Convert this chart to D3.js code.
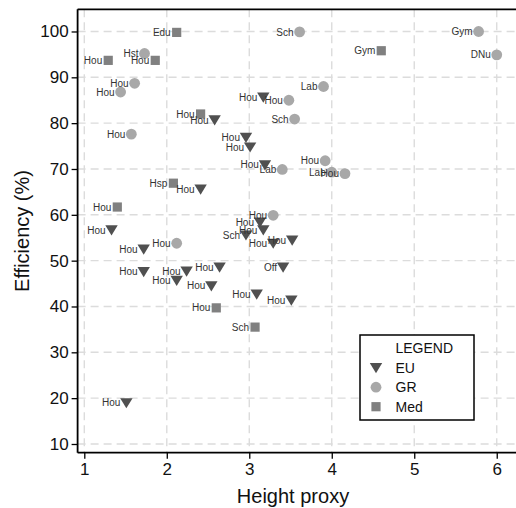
<!DOCTYPE html>
<html>
<head>
<meta charset="utf-8">
<script src="https://cdn.jsdelivr.net/npm/d3@7"></script>
<style>
  html, body { margin: 0; padding: 0; background: #fff; }
  svg { display: block; font-family: "Liberation Sans", Arial, Helvetica, sans-serif; }
</style>
</head>
<body>
<svg id="chart" width="516" height="508"></svg>
<script>
// ---- Data ----
const euLabels = ["Hou","Hou","Hou","Hou","Hou","Hou","Hou","Hou","Hou","Hou","Sch","Hou","Hou","Off","Hou","Hou","Hou","Hou","Hou","Hou","Hou","Hou"];
const euX = [3.17, 2.58, 2.96, 3.01, 3.19, 2.41, 3.13, 3.17, 3.29, 3.52, 2.96, 1.33, 1.72, 3.41, 1.72, 2.12, 2.24, 2.64, 2.54, 3.09, 3.51, 1.51];
const euY = [85.7, 80.7, 76.9, 74.8, 70.9, 65.6, 58.4, 56.7, 53.8, 54.5, 55.6, 56.7, 52.5, 48.6, 47.6, 45.7, 47.7, 48.6, 44.5, 42.7, 41.4, 19.0];

const grLabels = ["Hst","Hou","Hou","Hou","Sch","Gym","DNu","Lab","Hou","Sch","Hou","Lab","Lab","Hou","Hou","Hou"];
const grX = [1.73, 1.61, 1.44, 1.57, 3.61, 5.78, 6.00, 3.90, 3.48, 3.55, 3.92, 3.40, 4.00, 4.16, 3.29, 2.12];
const grY = [95.2, 88.7, 86.8, 77.6, 99.9, 100.0, 94.9, 88.0, 85.0, 80.9, 71.8, 69.9, 69.3, 69.0, 59.9, 53.8];

const medLabels = ["Edu","Hou","Hou","Gym","Hou","Hsp","Hou","Hou","Sch"];
const medX = [2.12, 1.29, 1.86, 4.60, 2.41, 2.08, 1.40, 2.60, 3.07];
const medY = [99.8, 93.7, 93.7, 95.8, 82.0, 66.9, 61.7, 39.7, 35.5];

const xTicks = [1, 2, 3, 4, 5, 6];
const yTicks = [10, 20, 30, 40, 50, 60, 70, 80, 90, 100];
const legendItems = ["EU", "GR", "Med"];

// ---- Layout ----
const svg = d3.select("#chart");
const pL = 77.6, pR = 520, pT = 9.3, pB = 452.7;

const x = d3.scaleLinear().domain([0.9188, 6.282]).range([pL, pR]);
const y = d3.scaleLinear().domain([8.10, 104.84]).range([pB, pT]);

const colEU = "#505050", colGR = "#a8a8a8", colMed = "#808080";

// grid
const grid = svg.append("g");
grid.selectAll("line.gx").data(xTicks).enter().append("line")
  .attr("x1", d => x(d)).attr("x2", d => x(d))
  .attr("y1", pT).attr("y2", pB)
  .attr("stroke", "#dcdcdc").attr("stroke-width", 1.4).attr("stroke-dasharray", "8,5");
grid.selectAll("line.gy").data(yTicks).enter().append("line")
  .attr("x1", pL).attr("x2", pR)
  .attr("y1", d => y(d)).attr("y2", d => y(d))
  .attr("stroke", "#dcdcdc").attr("stroke-width", 1.4).attr("stroke-dasharray", "8,5");

// frame top
svg.append("line").attr("x1", pL).attr("x2", pR).attr("y1", pT).attr("y2", pT)
  .attr("stroke", "#000").attr("stroke-width", 1.8);

// axes
const xAxis = svg.append("g").attr("transform", `translate(0,${pB})`)
  .call(d3.axisBottom(x).tickValues(xTicks).tickSize(6).tickPadding(4).tickFormat(d3.format("d")));
const yAxis = svg.append("g").attr("transform", `translate(${pL},0)`)
  .call(d3.axisLeft(y).tickValues(yTicks).tickSize(6).tickPadding(3).tickFormat(d3.format("d")));
[xAxis, yAxis].forEach(a => {
  a.select(".domain").attr("stroke", "#000").attr("stroke-width", 1.8);
  a.selectAll(".tick line").attr("stroke", "#000").attr("stroke-width", 1.3);
  a.selectAll(".tick text").attr("fill", "#111").attr("font-size", 17)
    .attr("font-family", "'Liberation Sans', Arial, sans-serif");
});
xAxis.select(".domain").attr("d", `M${pL},0H${pR}`);
yAxis.select(".domain").attr("d", `M0,${pT}V${pB}`);

// axis titles
svg.append("text").attr("x", 293).attr("y", 503).attr("text-anchor", "middle")
  .attr("font-size", 20).attr("fill", "#111").text("Height proxy");
svg.append("text").attr("transform", `translate(29,${(pT + pB) / 2}) rotate(-90)`)
  .attr("text-anchor", "middle").attr("font-size", 20).attr("fill", "#111").text("Efficiency (%)");

// data
const eu = euX.map((v, i) => ({x: v, y: euY[i], l: euLabels[i]}));
const gr = grX.map((v, i) => ({x: v, y: grY[i], l: grLabels[i]}));
const med = medX.map((v, i) => ({x: v, y: medY[i], l: medLabels[i]}));

const tri = "M-6.2,-4.6L6.2,-4.6L0,5.6Z";
const marks = svg.append("g");
marks.selectAll("rect").data(med).enter().append("rect")
  .attr("x", d => x(d.x) - 4.6).attr("y", d => y(d.y) - 4.6)
  .attr("width", 9.2).attr("height", 9.2).attr("fill", colMed);
marks.selectAll("circle").data(gr).enter().append("circle")
  .attr("cx", d => x(d.x)).attr("cy", d => y(d.y)).attr("r", 5.4).attr("fill", colGR);
marks.selectAll("path").data(eu).enter().append("path")
  .attr("d", tri).attr("transform", d => `translate(${x(d.x)},${y(d.y)})`).attr("fill", colEU);

const labels = svg.append("g").attr("font-size", 10).attr("fill", "#333").attr("text-anchor", "end");
[med, gr, eu].forEach(ser => {
  labels.selectAll(null).data(ser).enter().append("text")
    .attr("x", d => x(d.x) - 6).attr("y", d => y(d.y) + 3.6).text(d => d.l);
});

// legend
const lg = svg.append("g");
lg.append("rect").attr("x", 360).attr("y", 335).attr("width", 114).attr("height", 85)
  .attr("fill", "#fff").attr("stroke", "#000").attr("stroke-width", 1.5);
lg.append("text").attr("x", 395.5).attr("y", 352.5).attr("font-size", 14).attr("fill", "#111").text("LEGEND");
legendItems.forEach((name, i) => {
  const cy = 367.7 + i * 19.5;
  if (i === 0) lg.append("path").attr("d", tri).attr("transform", `translate(376,${cy})`).attr("fill", colEU);
  if (i === 1) lg.append("circle").attr("cx", 376).attr("cy", cy).attr("r", 5.4).attr("fill", colGR);
  if (i === 2) lg.append("rect").attr("x", 376 - 4.6).attr("y", cy - 4.6).attr("width", 9.2).attr("height", 9.2).attr("fill", colMed);
  lg.append("text").attr("x", 395.5).attr("y", cy + 5).attr("font-size", 14).attr("fill", "#111").text(name);
});
</script>
</body>
</html>
